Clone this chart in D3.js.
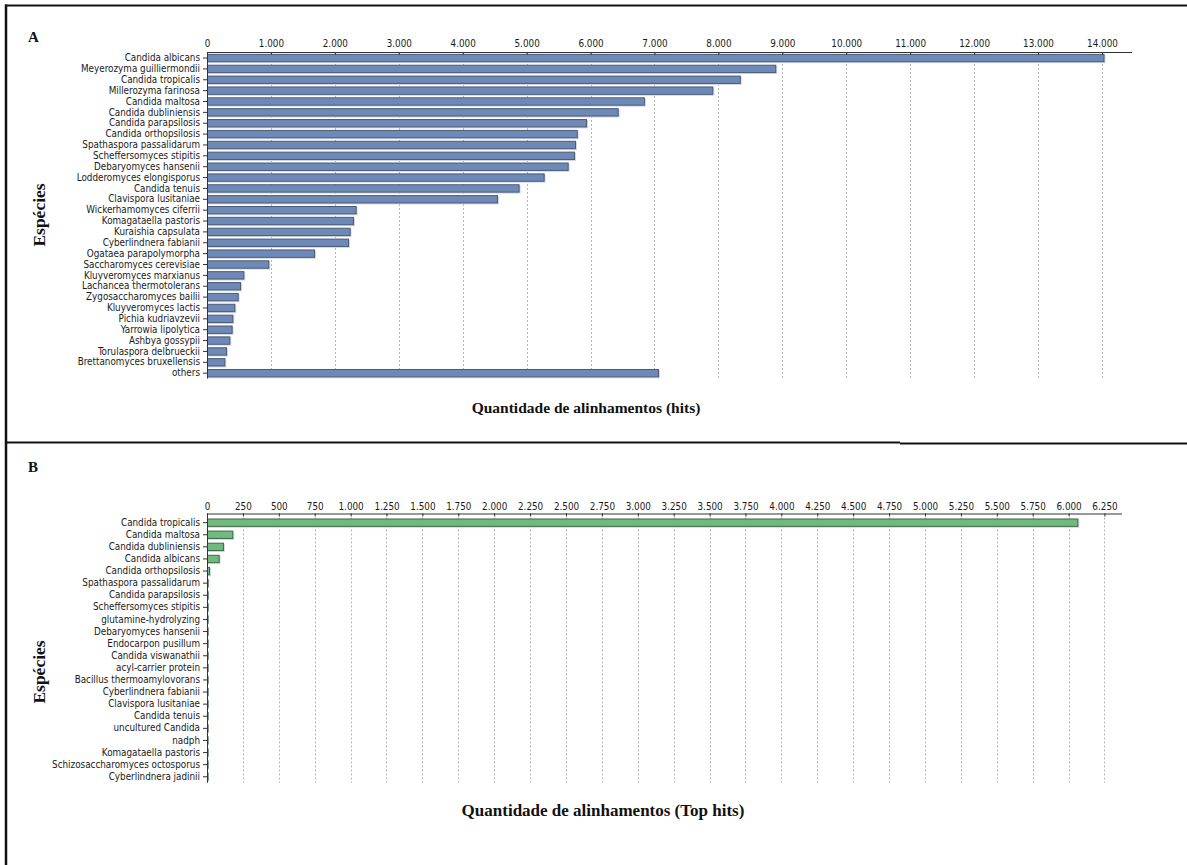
<!DOCTYPE html>
<html>
<head>
<meta charset="utf-8">
<script src="https://cdn.jsdelivr.net/npm/d3@7"></script>
<style>
  html, body { margin: 0; padding: 0; background: #fff; }
  svg { display: block; }
  .tick text { font-family: "DejaVu Sans Condensed", "DejaVu Sans", sans-serif; font-size: 9.8px; fill: #1a1a1a; }
  .axis path, .axis line { stroke: #333; }
  .title { font-family: "Liberation Serif", "Times New Roman", serif; font-weight: bold; fill: #111; }
</style>
</head>
<body>
<svg id="chart" width="1187" height="865"></svg>
<script>
// ---------- Data: panel A ----------
const speciesA = [
  "Candida albicans", "Meyerozyma guilliermondii", "Candida tropicalis", "Millerozyma farinosa",
  "Candida maltosa", "Candida dubliniensis", "Candida parapsilosis", "Candida orthopsilosis",
  "Spathaspora passalidarum", "Scheffersomyces stipitis", "Debaryomyces hansenii",
  "Lodderomyces elongisporus", "Candida tenuis", "Clavispora lusitaniae", "Wickerhamomyces ciferrii",
  "Komagataella pastoris", "Kuraishia capsulata", "Cyberlindnera fabianii", "Ogataea parapolymorpha",
  "Saccharomyces cerevisiae", "Kluyveromyces marxianus", "Lachancea thermotolerans",
  "Zygosaccharomyces bailii", "Kluyveromyces lactis", "Pichia kudriavzevii", "Yarrowia lipolytica",
  "Ashbya gossypii", "Torulaspora delbrueckii", "Brettanomyces bruxellensis", "others"
];
const hitsA = [
  14040, 8905, 8350, 7920, 6850, 6440, 5945, 5800, 5772, 5756, 5657, 5282, 4890, 4552, 2341,
  2299, 2247, 2221, 1690, 975, 584, 532, 495, 443, 412, 401, 365, 313, 287, 7070
];
const ticksA = [0, 1000, 2000, 3000, 4000, 5000, 6000, 7000, 8000, 9000, 10000, 11000, 12000, 13000, 14000];

// ---------- Data: panel B ----------
const speciesB = [
  "Candida tropicalis", "Candida maltosa", "Candida dubliniensis", "Candida albicans",
  "Candida orthopsilosis", "Spathaspora passalidarum", "Candida parapsilosis",
  "Scheffersomyces stipitis", "glutamine-hydrolyzing", "Debaryomyces hansenii",
  "Endocarpon pusillum", "Candida viswanathii", "acyl-carrier protein", "Bacillus thermoamylovorans",
  "Cyberlindnera fabianii", "Clavispora lusitaniae", "Candida tenuis", "uncultured Candida",
  "nadph", "Komagataella pastoris", "Schizosaccharomyces octosporus", "Cyberlindnera jadinii"
];
const hitsB = [6068, 183, 118, 88, 21, 9, 8, 4, 3, 3, 2, 2, 2, 2, 2, 2, 1, 1, 1, 1, 1, 1];
const ticksB = [0, 250, 500, 750, 1000, 1250, 1500, 1750, 2000, 2250, 2500, 2750, 3000, 3250,
  3500, 3750, 4000, 4250, 4500, 4750, 5000, 5250, 5500, 5750, 6000, 6250];

// ---------- Drawing ----------
const svg = d3.select("#chart");
const ptBR = d3.formatLocale({ decimal: ",", thousands: ".", grouping: [3], currency: ["", ""] });
const fmt = ptBR.format(",");

function panel(cfg) {
  const g = svg.append("g");
  const x = d3.scaleLinear().domain(cfg.domain).range(cfg.xRange);
  const y = d3.scaleBand().domain(cfg.cats).range(cfg.yRange)
    .paddingInner(cfg.pad).paddingOuter(cfg.pad / 2);
  const top = cfg.axisY, bottom = cfg.yRange[1];

  // dotted grid
  g.append("g").selectAll("line").data(cfg.ticks.filter(t => t > 0)).join("line")
    .attr("x1", d => Math.round(x(d)) + 0.5).attr("x2", d => Math.round(x(d)) + 0.5)
    .attr("y1", top).attr("y2", bottom)
    .attr("stroke", "#b5b5b5").attr("stroke-width", 1).attr("stroke-dasharray", "2,2");

  // bars: light shadow then bar
  g.append("g").selectAll("rect").data(cfg.cats).join("rect")
    .attr("x", x(0) + 1).attr("y", d => y(d) + 1)
    .attr("width", (d, i) => Math.max(0, x(cfg.values[i]) - x(0)))
    .attr("height", y.bandwidth())
    .attr("fill", "#d4d8de");
  g.append("g").selectAll("rect").data(cfg.cats).join("rect")
    .attr("x", x(0) + 0.5).attr("y", d => y(d) + 0.5)
    .attr("width", (d, i) => Math.max(0.6, x(cfg.values[i]) - x(0) - 1))
    .attr("height", y.bandwidth() - 1)
    .attr("fill", cfg.fill).attr("stroke", cfg.stroke).attr("stroke-width", 1);

  // top axis
  const ax = g.append("g").attr("class", "axis").attr("transform", `translate(0,${top})`)
    .call(d3.axisTop(x).tickValues(cfg.ticks).tickFormat(fmt).tickSizeInner(-3).tickSizeOuter(0).tickPadding(cfg.tickPad));
  ax.select(".domain").attr("d", `M${x.range()[0]},0.5H${x.range()[1]}`);

  // left axis
  g.append("g").attr("class", "axis").attr("transform", `translate(${x(0)},0)`)
    .call(d3.axisLeft(y).tickSizeInner(4).tickSizeOuter(0).tickPadding(3))
    .select(".domain").attr("d", `M0.5,${top}V${bottom}`);

  // titles
  svg.append("text").attr("class", "title")
    .attr("x", cfg.xTitle[0]).attr("y", cfg.xTitle[1]).attr("text-anchor", "middle")
    .style("font-size", cfg.xTitleSize + "px").text(cfg.xLabel);
  svg.append("text").attr("class", "title")
    .attr("transform", `translate(${cfg.yTitle[0]},${cfg.yTitle[1]}) rotate(-90)`)
    .attr("text-anchor", "middle").style("font-size", "17.5px").text("Espécies");
  svg.append("text").attr("class", "title")
    .attr("x", cfg.letter[0]).attr("y", cfg.letter[1]).style("font-size", "15px").text(cfg.letterText);
}

panel({
  cats: speciesA, values: hitsA, ticks: ticksA,
  domain: [0, 14470], xRange: [207, 1132], axisY: 52, yRange: [52.6, 378.6], pad: 0.23, tickPad: 5,
  fill: "#6f89b7", stroke: "#4a5a78",
  xLabel: "Quantidade de alinhamentos (hits)", xTitle: [586, 413], xTitleSize: 15.5,
  yTitle: [45, 215], letter: [28, 42], letterText: "A"
});

panel({
  cats: speciesB, values: hitsB, ticks: ticksB,
  domain: [0, 6372], xRange: [207, 1122], axisY: 513.5, yRange: [516.6, 782.8], pad: 0.31, tickPad: 4,
  fill: "#71b97e", stroke: "#3d6a46",
  xLabel: "Quantidade de alinhamentos (Top hits)", xTitle: [603, 816], xTitleSize: 17,
  yTitle: [45, 672], letter: [28, 472], letterText: "B"
});

// frame lines
const frame = svg.append("g").attr("stroke", "#111").attr("fill", "none");
frame.append("path").attr("d", "M5,5.5H1187").attr("stroke-width", 2);
frame.append("path").attr("d", "M6,4.5V865").attr("stroke-width", 2.5);
frame.append("path").attr("d", "M5,442.5H900").attr("stroke-width", 2);
frame.append("path").attr("d", "M900,443.5H1187").attr("stroke-width", 2);
</script>
</body>
</html>
